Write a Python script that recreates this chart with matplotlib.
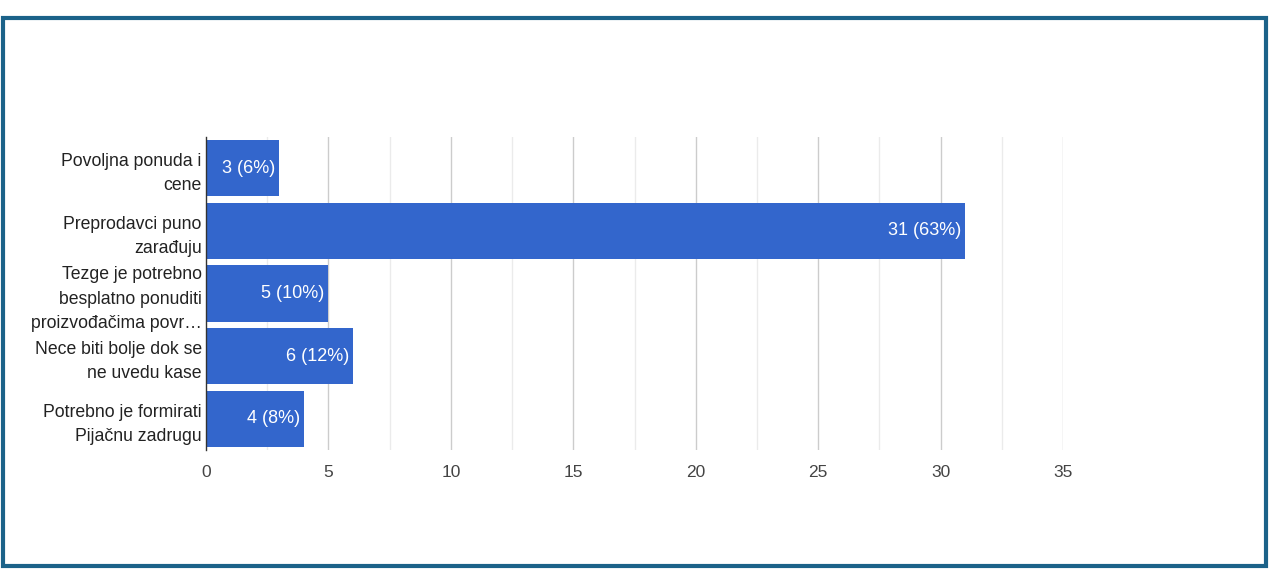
import matplotlib
matplotlib.use('Agg')
import matplotlib.pyplot as plt
from matplotlib.patches import Rectangle

plt.rcParams['font.family'] = ['Liberation Sans', 'DejaVu Sans']

# data
categories = [
    'Povoljna ponuda i\ncene',
    'Preprodavci puno\nzarađuju',
    'Tezge je potrebno\nbesplatno ponuditi\nproizvođačima povr…',
    'Nece biti bolje dok se\nne uvedu kase',
    'Potrebno je formirati\nPijačnu zadrugu',
]
counts = [3, 31, 5, 6, 4]
percents = [6, 63, 10, 12, 8]
xticks = [0, 5, 10, 15, 20, 25, 30, 35]

W, H = 1270, 575
fig = plt.figure(figsize=(W / 100, H / 100), dpi=100)
fig.patch.set_facecolor('white')

# frame around the chart
fig.patches.append(Rectangle((3 / W, 1 - 566 / H), 1263 / W, 548 / H,
                             transform=fig.transFigure, fill=False,
                             edgecolor='#1b6289', linewidth=3))

ax = fig.add_axes([206 / W, 1 - 450 / H, 857 / W, 313 / H])
y = list(range(len(categories)))
ax.barh(y, counts, height=0.9, color='#3366cc', zorder=3)
ax.set_ylim(len(categories) - 0.5, -0.5)
ax.set_xlim(0, 35)

# gridlines
for v in xticks[1:]:
    ax.axvline(v, color='#cccccc', lw=1, zorder=1)
for v in [2.5 + 5 * k for k in range(7)]:
    ax.axvline(v, color='#ebebeb', lw=1, zorder=1)

for i, (c, p) in enumerate(zip(counts, percents)):
    ax.text(c - 0.17, i, f'{c} ({p}%)', ha='right', va='center',
            color='white', fontsize=13, zorder=4)

ax.set_yticks(y)
ax.set_yticklabels(categories, fontsize=12.7, color='#222222', linespacing=1.55)
ax.set_xticks(xticks)
ax.set_xticklabels([str(t) for t in xticks], fontsize=12.5, color='#444444')
ax.tick_params(axis='both', length=0)
ax.tick_params(axis='x', pad=11)
ax.tick_params(axis='y', pad=3)

for s in ['top', 'right', 'bottom']:
    ax.spines[s].set_visible(False)
ax.spines['left'].set_color('#333333')
ax.spines['left'].set_linewidth(1)
ax.spines['left'].set_zorder(5)

fig.savefig('out.png', dpi=100, facecolor='white')
